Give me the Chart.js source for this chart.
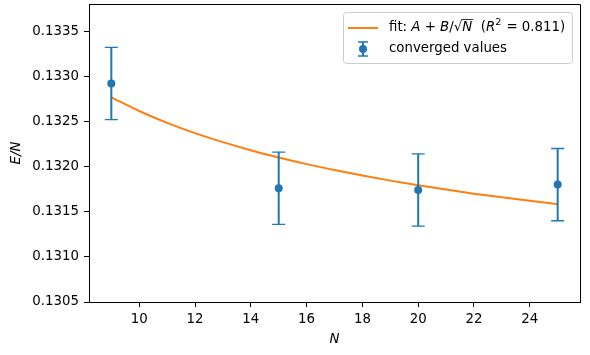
<!DOCTYPE html>
<html>
<head>
    <meta charset="UTF-8" />
    <title>E/N vs N</title>
    <script src="https://cdn.jsdelivr.net/npm/chart.js@4.4.9/dist/chart.umd.min.js"></script>
    <style>
        body { margin: 0; background: #fff; }
    </style>
</head>
<body>
    <canvas id="chart" width="590" height="355"></canvas>
<script>
    // converged values
    const sizes = [9, 15, 20, 25];
    const energies = [0.13292, 0.13176, 0.13174, 0.13180];
    const errors = [0.0004, 0.0004, 0.0004, 0.0004];

    // fit curve A + B/sqrt(N), read at integer N
    const fitN = [9, 10, 11, 12, 13, 14, 15, 16, 17, 18, 19, 20, 21, 22, 23, 24, 25];
    const fitE = [0.132767, 0.132615, 0.132484, 0.132370, 0.132270, 0.132180, 0.132100, 0.132027,
                  0.131961, 0.131900, 0.131844, 0.131793, 0.131745, 0.131700, 0.131659, 0.131620, 0.131583];

    const xTicks = [10, 12, 14, 16, 18, 20, 22, 24];
    const yTicks = [0.1305, 0.1310, 0.1315, 0.1320, 0.1325, 0.1330, 0.1335];

    const blue = '#1f77b4';
    const orange = '#ff7f0e';
    const fam = '"DejaVu Sans", sans-serif';
    const fs = 13.33;

    Chart.defaults.font.family = fam;
    Chart.defaults.font.size = fs;
    Chart.defaults.color = '#000';

    // vertical error bars with caps, drawn just before the points
    const errorBars = {
        id: 'errorBars',
        beforeDatasetDraw(chart, args) {
            if (args.index !== 1) return;
            const ctx = chart.ctx, xs = chart.scales.x, ys = chart.scales.y;
            ctx.save();
            ctx.strokeStyle = blue;
            sizes.forEach((n, i) => {
                const px = xs.getPixelForValue(n);
                const top = ys.getPixelForValue(energies[i] + errors[i]);
                const bot = ys.getPixelForValue(energies[i] - errors[i]);
                ctx.lineWidth = 2;
                ctx.beginPath();
                ctx.moveTo(px, top);
                ctx.lineTo(px, bot);
                ctx.stroke();
                ctx.lineWidth = 1.4;
                ctx.beginPath();
                ctx.moveTo(px - 6.5, top); ctx.lineTo(px + 6.5, top);
                ctx.moveTo(px - 6.5, bot); ctx.lineTo(px + 6.5, bot);
                ctx.stroke();
            });
            ctx.restore();
        }
    };

    // top and right spines
    const frame = {
        id: 'frame',
        afterDraw(chart) {
            const ctx = chart.ctx, ca = chart.chartArea;
            ctx.save();
            ctx.strokeStyle = '#000';
            ctx.lineWidth = 1;
            ctx.beginPath();
            ctx.moveTo(Math.round(ca.left) + 0.5, Math.round(ca.top) + 0.5);
            ctx.lineTo(Math.round(ca.right) + 0.5, Math.round(ca.top) + 0.5);
            ctx.lineTo(Math.round(ca.right) + 0.5, Math.round(ca.bottom) + 0.5);
            ctx.stroke();
            ctx.restore();
        }
    };

    // matplotlib style legend in the upper right corner
    const legendBox = {
        id: 'legendBox',
        afterDraw(chart) {
            const ctx = chart.ctx, ca = chart.chartArea;
            const w = 229, h = 51;
            const left = ca.right - 8 - w, top = ca.top + 8;
            ctx.save();
            ctx.fillStyle = 'rgba(255,255,255,0.8)';
            ctx.strokeStyle = '#cccccc';
            ctx.lineWidth = 1;
            ctx.beginPath();
            ctx.roundRect(left + 0.5, top + 0.5, w, h, 3);
            ctx.fill();
            ctx.stroke();

            const y1 = top + 16, y2 = top + 37;
            // fit line sample
            ctx.strokeStyle = orange;
            ctx.lineWidth = 2;
            ctx.beginPath();
            ctx.moveTo(left + 5, y1);
            ctx.lineTo(left + 35, y1);
            ctx.stroke();
            // error bar sample
            const mx = left + 20;
            ctx.strokeStyle = blue;
            ctx.beginPath();
            ctx.moveTo(mx, y2 - 7);
            ctx.lineTo(mx, y2 + 7);
            ctx.stroke();
            ctx.lineWidth = 1.4;
            ctx.beginPath();
            ctx.moveTo(mx - 5, y2 - 7); ctx.lineTo(mx + 5, y2 - 7);
            ctx.moveTo(mx - 5, y2 + 7); ctx.lineTo(mx + 5, y2 + 7);
            ctx.stroke();
            ctx.fillStyle = blue;
            ctx.beginPath();
            ctx.arc(mx, y2, 4, 0, Math.PI * 2);
            ctx.fill();

            // text
            ctx.fillStyle = '#000';
            ctx.textBaseline = 'middle';
            const normal = fs + 'px ' + fam;
            const italic = 'italic ' + fs + 'px ' + fam;
            const small = '9.5px ' + fam;
            const segs = [
                ['fit: ', normal], ['A', italic], [' + ', normal], ['B', italic], ['/', normal],
                ['\u221A', normal, 'root'], ['N', italic, 'over'], ['  (', normal], ['R', italic],
                ['2', small, 'sup'], [' = 0.811)', normal]
            ];
            let x = left + 46;
            let rootEnd = 0;
            segs.forEach(([t, f, kind]) => {
                ctx.font = f;
                const dy = kind === 'sup' ? -5 : 0;
                ctx.fillText(t, x, y1 + dy);
                const wdt = ctx.measureText(t).width;
                if (kind === 'root') rootEnd = x + wdt - 1;
                if (kind === 'over') {
                    ctx.strokeStyle = '#000';
                    ctx.lineWidth = 0.8;
                    ctx.beginPath();
                    ctx.moveTo(rootEnd, y1 - 8.5);
                    ctx.lineTo(x + wdt + 1, y1 - 8.5);
                    ctx.stroke();
                }
                x += wdt + (kind === 'sup' ? 1 : 0);
            });
            ctx.font = normal;
            ctx.fillText('converged values', left + 46, y2);
            ctx.restore();
        }
    };

    new Chart(document.getElementById('chart'), {
        type: 'scatter',
        data: {
            datasets: [
                {
                    type: 'line',
                    label: 'fit',
                    data: fitN.map((n, i) => ({ x: n, y: fitE[i] })),
                    borderColor: orange,
                    borderWidth: 2,
                    pointRadius: 0,
                    cubicInterpolationMode: 'monotone',
                    fill: false,
                    order: 2
                },
                {
                    label: 'converged values',
                    data: sizes.map((n, i) => ({ x: n, y: energies[i] })),
                    backgroundColor: blue,
                    borderColor: blue,
                    pointRadius: 4,
                    pointBorderWidth: 0,
                    order: 1
                }
            ]
        },
        options: {
            responsive: false,
            animation: false,
            devicePixelRatio: 1,
            layout: { padding: { top: 3, right: 10, left: 0, bottom: 0 } },
            plugins: {
                legend: { display: false },
                tooltip: { enabled: false }
            },
            scales: {
                x: {
                    type: 'linear',
                    min: 8.2,
                    max: 25.8,
                    afterFit: s => { s.height = 53; s.paddingLeft = 0; s.paddingRight = 0; },
                    afterBuildTicks: s => { s.ticks = xTicks.map(v => ({ value: v })); },
                    grid: { drawOnChartArea: false, drawTicks: true, tickLength: 5, color: '#000', tickWidth: 1 },
                    border: { color: '#000', width: 1 },
                    ticks: { padding: 5, color: '#000', maxRotation: 0 },
                    title: {
                        display: true,
                        text: 'N',
                        font: { style: 'italic', size: fs },
                        padding: { top: 7, bottom: 7 }
                    }
                },
                y: {
                    min: 0.1305,
                    max: 0.1338,
                    afterFit: s => { s.width = 89; s.paddingTop = 0; s.paddingBottom = 0; },
                    afterBuildTicks: s => { s.ticks = yTicks.map(v => ({ value: v })); },
                    grid: { drawOnChartArea: false, drawTicks: true, tickLength: 5, color: '#000', tickWidth: 1 },
                    border: { color: '#000', width: 1 },
                    ticks: { padding: 5, color: '#000', callback: v => v.toFixed(4) },
                    title: {
                        display: true,
                        text: 'E/N',
                        font: { style: 'italic', size: fs },
                        padding: { top: 9, bottom: 0 }
                    }
                }
            }
        },
        plugins: [errorBars, frame, legendBox]
    });
</script>
</body>
</html>
